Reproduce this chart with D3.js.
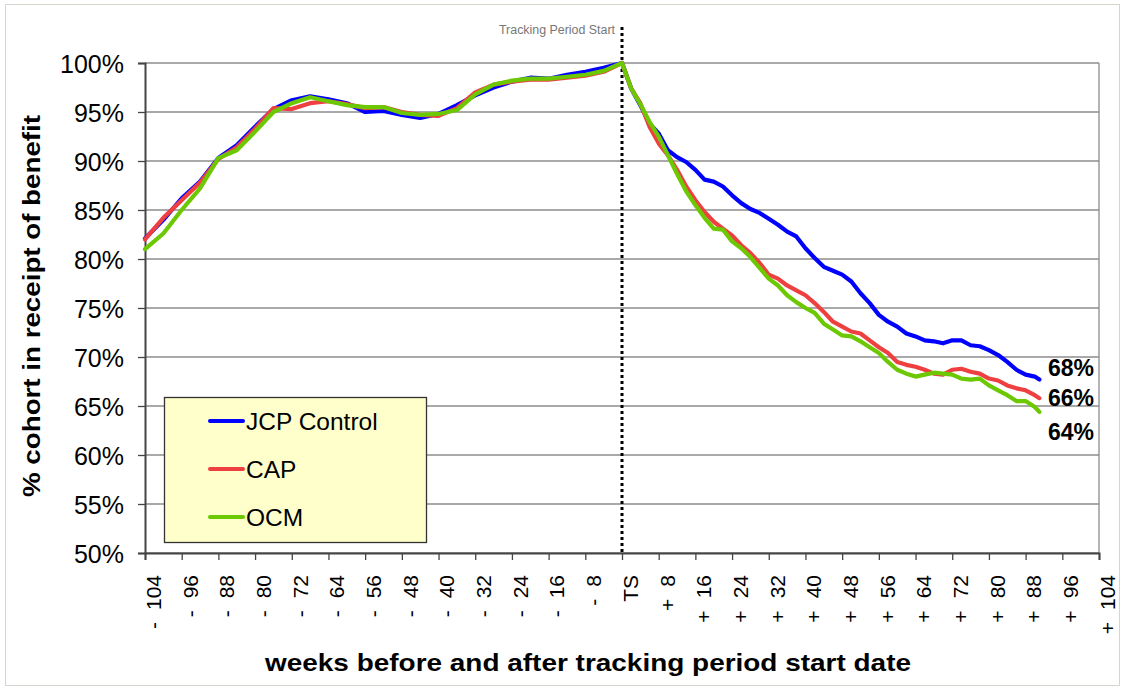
<!DOCTYPE html>
<html>
<head>
<meta charset="utf-8">
<script src="https://cdn.jsdelivr.net/npm/d3@7"></script>
<style>
  body { margin: 0; background: #fff; }
  svg { display: block; font-family: "Liberation Sans", Arial, sans-serif; }
</style>
</head>
<body>
<div id="chart"></div>
<script>
// weeks relative to tracking period start (TS = 0)
var weeks = [-104, -100, -96, -92, -88, -84, -80, -76, -72, -68, -64, -60, -56, -52,
  -48, -44, -40, -36, -32, -28, -24, -20, -16, -12, -8, -4, 0,
  2, 4, 6, 8, 10, 12, 14, 16, 18, 20, 22, 24, 26, 28, 30, 32, 34, 36, 38, 40,
  42, 44, 46, 48, 50, 52, 54, 56, 58, 60, 62, 64, 66, 68, 70, 72, 74, 76, 78, 80,
  82, 84, 86, 88, 90, 91];

var jcpControl = [82.1, 84.0, 86.2, 87.9, 90.3, 91.6, 93.5, 95.3, 96.2, 96.6, 96.3, 95.9, 95.0, 95.1,
  94.7, 94.4, 94.8, 95.7, 96.7, 97.5, 98.1, 98.5, 98.4, 98.8, 99.1, 99.5, 100,
  97.4, 95.7, 93.8, 92.8, 91.1, 90.4, 89.9, 89.1, 88.1, 87.9, 87.4, 86.5, 85.7, 85.1, 84.7, 84.1, 83.5, 82.8, 82.3, 81.1,
  80.1, 79.2, 78.8, 78.4, 77.7, 76.5, 75.5, 74.3, 73.6, 73.1, 72.4, 72.1, 71.7, 71.6, 71.4, 71.7, 71.7, 71.2, 71.1, 70.7,
  70.2, 69.5, 68.7, 68.2, 68.0, 67.7];

var cap = [82.0, 84.2, 86.0, 87.8, 90.2, 91.4, 93.3, 95.4, 95.3, 95.9, 96.1, 95.8, 95.4, 95.5,
  95.0, 94.7, 94.6, 95.4, 97.0, 97.8, 98.1, 98.3, 98.3, 98.5, 98.7, 99.1, 100,
  97.4, 95.9, 93.5, 91.8, 90.6, 89.1, 87.4, 86.0, 84.8, 83.8, 83.1, 82.4, 81.4, 80.6, 79.6, 78.4, 78.0, 77.3, 76.8, 76.3,
  75.5, 74.6, 73.6, 73.1, 72.6, 72.4, 71.7, 71.0, 70.4, 69.5, 69.2, 69.0, 68.7, 68.3, 68.2, 68.7, 68.8, 68.5, 68.3, 67.8,
  67.6, 67.1, 66.8, 66.6, 66.1, 65.8];

var ocm = [81.0, 82.6, 85.0, 87.2, 90.3, 91.1, 93.0, 95.0, 95.9, 96.5, 96.1, 95.7, 95.5, 95.5,
  94.9, 94.7, 94.8, 95.2, 96.8, 97.8, 98.2, 98.4, 98.4, 98.6, 98.8, 99.2, 100,
  97.4, 95.8, 94.0, 92.5, 90.6, 88.7, 86.9, 85.5, 84.2, 83.1, 83.0, 81.8, 81.1, 80.2, 79.1, 78.0, 77.3, 76.3, 75.6, 75.0,
  74.5, 73.4, 72.8, 72.2, 72.1, 71.6, 71.0, 70.4, 69.5, 68.7, 68.3, 68.0, 68.2, 68.4, 68.3, 68.2, 67.8, 67.7, 67.8, 67.1,
  66.6, 66.1, 65.5, 65.5, 64.9, 64.4];

var seriesNames = ['JCP Control', 'CAP', 'OCM'];
var seriesColors = ['#0000ff', '#ee4040', '#6cc800'];
var endLabels = ['68%', '66%', '64%'];

var tickWeeks = d3.range(-104, 105, 8);
var tickLabels = ['- 104', '- 96', '- 88', '- 80', '- 72', '- 64', '- 56', '- 48', '- 40',
  '- 32', '- 24', '- 16', '- 8', 'TS', '+ 8', '+ 16', '+ 24', '+ 32', '+ 40', '+ 48',
  '+ 56', '+ 64', '+ 72', '+ 80', '+ 88', '+ 96', '+ 104'];
var yTicks = d3.range(50, 101, 5);

var w = 1124, h = 688;
var plot = { top: 63, bottom: 553, left: 145, right: 1099 };

var svg = d3.select('#chart').append('svg')
  .attr('width', w)
  .attr('height', h);

// outer frame
svg.append('rect')
  .attr('x', 5.5).attr('y', 4.5)
  .attr('width', 1114).attr('height', 681)
  .attr('fill', 'none')
  .attr('stroke', '#d9d5cc');

var x = d3.scaleLinear().domain([-104, 104]).range([plot.left, plot.right]);
var y = d3.scaleLinear().domain([50, 100]).range([plot.bottom, plot.top]);

// gridlines
svg.append('g')
  .selectAll('line')
  .data(yTicks)
  .enter().append('line')
  .attr('x1', plot.left).attr('x2', plot.right)
  .attr('y1', d => y(d)).attr('y2', d => y(d))
  .attr('stroke', '#8c8c8c')
  .attr('stroke-width', 1.3);

// right border
svg.append('line')
  .attr('x1', plot.right).attr('x2', plot.right)
  .attr('y1', plot.top).attr('y2', plot.bottom)
  .attr('stroke', '#8c8c8c')
  .attr('stroke-width', 1.3);

// y axis
var yAxis = svg.append('g')
  .attr('transform', `translate(${plot.left},0)`)
  .call(d3.axisLeft(y).tickValues(yTicks).tickFormat(d => d + '%').tickSize(7).tickPadding(14));
yAxis.select('.domain').attr('stroke', '#444').attr('stroke-width', 2);
yAxis.selectAll('.tick line').attr('stroke', '#444').attr('stroke-width', 1.3);
yAxis.selectAll('text')
  .attr('font-size', 25)
  .attr('font-family', '"Liberation Sans", Arial, sans-serif')
  .attr('fill', '#000')
  .attr('dy', '0.36em');

// x axis
var xAxis = svg.append('g')
  .attr('transform', `translate(0,${plot.bottom})`)
  .call(d3.axisBottom(x).tickValues(tickWeeks).tickSize(7));
xAxis.select('.domain').attr('stroke', '#444').attr('stroke-width', 2);
xAxis.selectAll('.tick line').attr('stroke', '#444').attr('stroke-width', 1.3);
xAxis.selectAll('.tick text').each(function (d, i) {
  var t = d3.select(this);
  var parts = tickLabels[i].split(' ');
  t.text(null)
    .attr('transform', 'rotate(-90)')
    .attr('x', -22)
    .attr('y', 8)
    .attr('dy', '0.35em')
    .attr('text-anchor', 'end')
    .attr('font-size', 21)
    .attr('font-family', '"Liberation Sans", Arial, sans-serif')
    .attr('fill', '#000');
  if (parts.length > 1) {
    t.append('tspan').text(parts[0]);
    t.append('tspan').attr('dx', 12).text(parts[1]);
  } else {
    t.append('tspan').text(parts[0]);
  }
});

// tracking period start marker
svg.append('line')
  .attr('x1', x(0)).attr('x2', x(0))
  .attr('y1', 27).attr('y2', plot.bottom)
  .attr('stroke', '#000')
  .attr('stroke-width', 3)
  .attr('stroke-dasharray', '3,3');

svg.append('text')
  .attr('x', x(0) - 7)
  .attr('y', 34)
  .attr('text-anchor', 'end')
  .attr('font-size', 12)
  .attr('textLength', 116)
  .attr('lengthAdjust', 'spacingAndGlyphs')
  .attr('font-family', '"Liberation Sans Narrow", "Arial Narrow", "Liberation Sans", sans-serif')
  .attr('fill', '#777')
  .text('Tracking Period Start');

// series
var line = d3.line()
  .x((d, i) => x(weeks[i]))
  .y(d => y(d));

var allSeries = [jcpControl, cap, ocm];
svg.append('g')
  .selectAll('path')
  .data(allSeries)
  .enter().append('path')
  .attr('d', line)
  .attr('fill', 'none')
  .attr('stroke', (d, i) => seriesColors[i])
  .attr('stroke-width', 4.2)
  .attr('stroke-linejoin', 'round')
  .attr('stroke-linecap', 'round');

// end labels
var endY = [368, 398, 432];
svg.append('g')
  .selectAll('text')
  .data(endLabels)
  .enter().append('text')
  .attr('x', 1048)
  .attr('y', (d, i) => endY[i])
  .attr('dy', '0.36em')
  .attr('font-size', 23)
  .attr('font-weight', 'bold')
  .text(d => d);

// legend
var legend = svg.append('g');
legend.append('rect')
  .attr('x', 164.5).attr('y', 397.5)
  .attr('width', 262).attr('height', 145)
  .attr('fill', '#ffffcc')
  .attr('stroke', '#333')
  .attr('stroke-width', 1.3);

var legendItem = legend.selectAll('g.item')
  .data(seriesNames)
  .enter().append('g')
  .attr('class', 'item')
  .attr('transform', (d, i) => `translate(0,${421 + i * 48})`);
legendItem.append('line')
  .attr('x1', 210).attr('x2', 243)
  .attr('stroke', (d, i) => seriesColors[i])
  .attr('stroke-width', 4)
  .attr('stroke-linecap', 'round');
legendItem.append('text')
  .attr('x', 246)
  .attr('dy', '0.36em')
  .attr('font-size', 24.5)
  .text(d => d);

// axis titles
svg.append('text')
  .attr('transform', 'translate(40,306) rotate(-90)')
  .attr('text-anchor', 'middle')
  .attr('font-size', 24)
  .attr('font-weight', 'bold')
  .attr('textLength', 382)
  .attr('lengthAdjust', 'spacingAndGlyphs')
  .text('% cohort in receipt of benefit');

svg.append('text')
  .attr('x', 588)
  .attr('y', 671)
  .attr('text-anchor', 'middle')
  .attr('font-size', 24)
  .attr('font-weight', 'bold')
  .attr('textLength', 646)
  .attr('lengthAdjust', 'spacingAndGlyphs')
  .text('weeks before and after tracking period start date');
</script>
</body>
</html>
